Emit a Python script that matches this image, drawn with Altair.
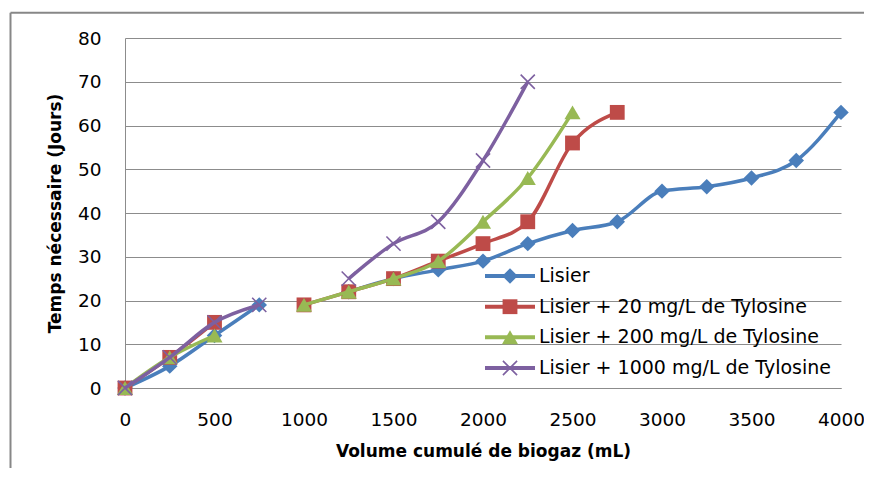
import altair as alt
import pandas as pd

# ---- data ----
volume = [0, 250, 500, 750, 1000, 1250, 1500, 1750, 2000, 2250, 2500, 2750,
          3000, 3250, 3500, 3750, 4000]
series_names = ["Lisier",
                "Lisier + 20 mg/L de Tylosine",
                "Lisier + 200 mg/L de Tylosine",
                "Lisier + 1000 mg/L de Tylosine"]
lisier = [0, 5, 12, 19, None, 22, 25, 27, 29, 33, 36, 38, 45, 46, 48, 52, 63]
tylo20 = [0, 7, 15, None, 19, 22, 25, 29, 33, 38, 56, 63, None, None, None, None, None]
tylo200 = [0, 7, 12, None, 19, 22, 25, 29, 38, 48, 63, None, None, None, None, None, None]
tylo1000 = [0, 7, 15, 19, None, 25, 33, 38, 52, 70, None, None, None, None, None, None, None]
x_ticks = [0, 500, 1000, 1500, 2000, 2500, 3000, 3500, 4000]
y_ticks = [0, 10, 20, 30, 40, 50, 60, 70, 80]

colors = ["#4A7EBB", "#BE4B48", "#98B954", "#7D60A0"]
shapes = ["diamond", "square", "triangle-up", "M-1,-1L1,1M-1,1L1,-1"]
sizes = [240, 220, 260, 200]
filled = [True, True, True, False]

rows = []
for name, vals in zip(series_names, [lisier, tylo20, tylo200, tylo1000]):
    seg = 0
    for v, y in zip(volume, vals):
        if y is None:
            seg += 1
            continue
        rows.append({"serie": name, "volume": v, "jours": y, "seg": seg})
df = pd.DataFrame(rows)

FONT = "DejaVu Sans"
W, H = 716, 350

x_scale = alt.Scale(domain=[0, 4000], nice=False)
y_scale = alt.Scale(domain=[0, 80], nice=False)

x_enc = alt.X("volume:Q", scale=x_scale,
              axis=alt.Axis(values=x_ticks, grid=False, ticks=False, tickSize=0,
                            labelFlush=False, labelOverlap=False, format="d",
                            labelPadding=37, labelBaseline="alphabetic",
                            labelFontSize=18.5, labelFont=FONT, labelColor="#000",
                            domainColor="#8c8c8c", domainWidth=1,
                            title="Volume cumulé de biogaz (mL)",
                            titleFont=FONT, titleFontSize=17, titleFontWeight="bold",
                            titleColor="#000", titleX=W / 2, titleY=68,
                            titleBaseline="alphabetic"))
y_enc = alt.Y("jours:Q", scale=y_scale,
              axis=alt.Axis(values=y_ticks, grid=True, gridColor="#8c8c8c",
                            gridWidth=1, ticks=False, tickSize=0, labelPadding=24,
                            labelFlush=False, labelOverlap=False, format="d",
                            labelFontSize=18.5, labelFont=FONT, labelColor="#000",
                            domainColor="#8c8c8c", domainWidth=1,
                            title="Temps nécessaire (Jours)",
                            titleFont=FONT, titleFontSize=17, titleFontWeight="bold",
                            titleColor="#000", titleX=-65, titleY=H / 2,
                            titleAngle=270, titleBaseline="alphabetic"))

base = alt.Chart(df)
layers = []
for i, name in enumerate(series_names):
    sub = base.transform_filter(alt.datum.serie == name)
    layers.append(sub.mark_line(color=colors[i], strokeWidth=3.5,
                                interpolate="monotone").encode(
        x=x_enc, y=y_enc, detail="seg:N", order="volume:Q"))
    if filled[i]:
        pt = sub.mark_point(shape=shapes[i], size=sizes[i], filled=True,
                            color=colors[i], opacity=1)
    else:
        pt = sub.mark_point(shape=shapes[i], size=sizes[i], filled=False,
                            color=colors[i], strokeWidth=1.6, opacity=1)
    layers.append(pt.encode(x=alt.X("volume:Q", scale=x_scale),
                            y=alt.Y("jours:Q", scale=y_scale)))

# manual legend (inside the plot area, as in the reference)
leg_df = pd.DataFrame({"serie": series_names})
leg_base = alt.Chart(leg_df)
row_y = [238, 268.7, 299.3, 330]
for i, name in enumerate(series_names):
    lb = leg_base.transform_filter(alt.datum.serie == name)
    layers.append(lb.mark_rule(color=colors[i], strokeWidth=4).encode(
        x=alt.value(360), x2=alt.value(410), y=alt.value(row_y[i])))
    layers.append(lb.mark_point(shape=shapes[i], size=sizes[i], filled=filled[i],
                                color=colors[i], opacity=1,
                                strokeWidth=1.6).encode(
        x=alt.value(385), y=alt.value(row_y[i])))
    layers.append(lb.mark_text(align="left", baseline="middle", font=FONT,
                               fontSize=19, color="#000").encode(
        x=alt.value(414), y=alt.value(row_y[i]), text="serie:N"))

# outer chart frame (Excel chart area border)
frame_df = pd.DataFrame({"k": [0]})
frame = alt.Chart(frame_df)
layers.append(frame.mark_rule(color="#878787", strokeWidth=2).encode(
    x=alt.value(-114.5), y=alt.value(-25.3), y2=alt.value(430)))
layers.append(frame.mark_rule(color="#878787", strokeWidth=2).encode(
    x=alt.value(-114.5), x2=alt.value(740), y=alt.value(-25.3)))

chart = alt.layer(*layers).properties(
    width=W, height=H,
    padding={"left": 117, "top": 30, "right": 23, "bottom": 80},
    autosize=alt.AutoSizeParams(type="none"),
    background="white",
).configure_view(strokeWidth=0)

chart.save("out.html", embed_options={"renderer": "svg", "actions": False})
